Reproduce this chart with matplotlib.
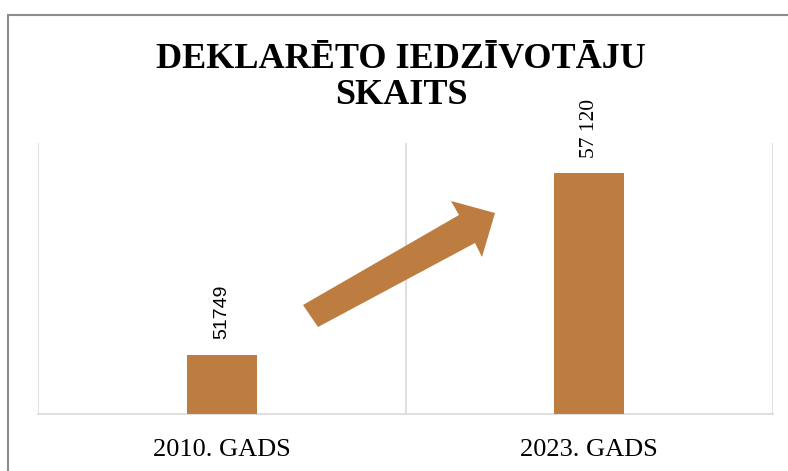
import matplotlib.pyplot as plt
from matplotlib.patches import Polygon, Rectangle
from matplotlib.transforms import IdentityTransform

years = ['2010. GADS', '2023. GADS']
residents = [51749, 57120]
value_labels = ['51749', '57 120']
title_lines = ['DEKLARĒTO IEDZĪVOTĀJU', 'SKAITS']

W, H = 788, 471
bar_color = '#BD7D40'
grid_color = '#D9D9D9'

fig = plt.figure(figsize=(W / 100, H / 100), dpi=100)
ax = fig.add_axes([38 / W, (H - 414) / H, (773 - 38) / W, (414 - 143) / H])

x = list(range(len(years)))
ax.bar(x, residents, width=0.19, color=bar_color, zorder=3)
ax.set_xlim(-0.5, 1.5)
ax.set_ylim(50000, 58000)

# category boundaries as vertical grid
ax.set_xticks([-0.5, 0.5, 1.5], minor=True)
ax.grid(which='minor', axis='x', color=grid_color, lw=1.2)
ax.set_xticks(x)
ax.set_xticklabels(years, family='Liberation Serif', fontsize=19)
ax.tick_params(axis='x', which='both', length=0, pad=18)
ax.set_yticks([])
for s in ['top', 'left', 'right']:
    ax.spines[s].set_visible(False)
ax.spines['bottom'].set_color(grid_color)
ax.spines['bottom'].set_linewidth(1.2)

# value labels (first one sans, second serif like the source)
fams = ['Liberation Sans', 'Liberation Serif']
sizes = [14, 15.5]
for xi, v, lab, fam, fs in zip(x, residents, value_labels, fams, sizes):
    ax.annotate(lab, (xi, v), xytext=(0, 11), textcoords='offset points',
                rotation=90, ha='center', va='bottom', family=fam, fontsize=fs)

# title, one text per line
for line, base in zip(title_lines, [68, 104]):
    fig.text(401 / W, (H - base) / H, line, ha='center', va='baseline',
             family='Liberation Serif', fontweight='bold', fontsize=26)

# block arrow (image pixel coords)
arrow_pts = [(303, 305), (459, 215), (451, 201), (495, 213),
             (482, 257), (475, 243), (318, 327)]
fig.add_artist(Polygon([(px, H - py) for px, py in arrow_pts], closed=True,
                       facecolor=bar_color, edgecolor='none',
                       transform=IdentityTransform()))

# outer frame
fig.add_artist(Rectangle((8, -20), 900, H - 15 + 20, fill=False,
                         edgecolor='#8C8C8C', lw=1.5,
                         transform=IdentityTransform()))

fig.savefig('out.png', dpi=100)
